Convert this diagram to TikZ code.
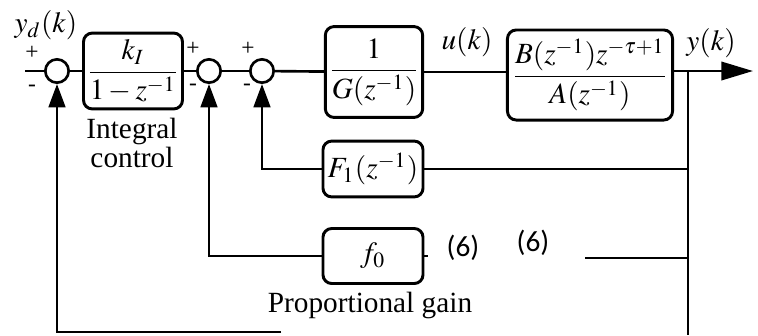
\documentclass[tikz,border=0pt]{standalone}
\usepackage{mathptmx}
\usepackage{fontspec}
\setmainfont{Liberation Serif}
\newfontfamily\calibri{Carlito}
\usetikzlibrary{arrows.meta}

\begin{document}
\begin{tikzpicture}[x=0.012cm, y=-0.012cm, line width=0.9pt,
      blk/.style={draw, rounded corners=3pt, line width=1pt, inner sep=1pt,
                  align=center},
      sumnode/.style={draw, circle, minimum size=0.28cm, inner sep=0pt},
      sgn/.style={font=\footnotesize, inner sep=0pt},
      arr/.style={-{Triangle[length=0.28cm, width=0.2cm]}},
      outarr/.style={-{Triangle[length=0.38cm, width=0.22cm]}}]

    \useasboundingbox (0,0) rectangle (758,335);

    \node[sumnode] (s1) at (57,71)  {};
    \node[sumnode] (s2) at (209,71) {};
    \node[sumnode] (s3) at (262,71) {};

    \node[blk, minimum width=1.08cm, minimum height=0.91cm]
      (ki) at (133,71) {$\displaystyle\frac{k_I}{1-z^{-1}}$};
    \node[blk, minimum width=1.1cm, minimum height=1.09cm]
      (ginv) at (374,72) {$\displaystyle\frac{1}{G(z^{-1})}$};
    \node[blk, minimum width=1.98cm, minimum height=1.08cm]
      (plant) at (590,75) {$\displaystyle\frac{B(z^{-1})z^{-\tau+1}}{A(z^{-1})}$};
    \node[blk, minimum width=1.2cm, minimum height=0.67cm]
      (fone) at (373,169) {$F_1(z^{-1})$};
    \node[blk, minimum width=1.2cm, minimum height=0.66cm]
      (fzero) at (373,256) {$f_0$};

    \coordinate (yin)   at (25,71);
    \coordinate (br)    at (688,71);
    \coordinate (yout)  at (753,71);
    \coordinate (bot)   at (688,335);
    \coordinate (fbend) at (281,332);
    \coordinate (pgap)  at (585,258);

    % forward path
    \draw (yin) -- (s1);
    \draw (s1) -- (ki);
    \draw (ki) -- (s2);
    \draw (s2) -- (s3);
    \draw (s3) -- (ginv);
    \draw (ginv.east) -- (ginv.east -| plant.west);
    \draw[outarr] (plant.east |- br) -- (yout);

    % feedback paths
    \draw (br) -- (bot);
    \draw (fone.east -| br) -- (fone);
    \draw[arr] (fone.west) -| (s3);
    \draw (pgap) -- (pgap -| br);
    \draw (fzero.east) -- ++(4,0);
    \draw[arr] (fzero.west) -| (s2);
    \draw[arr] (fbend) -| (s1);

    % labels
    \node (ydlabel) at (46,25)  {$y_d(k)$};
    \node (ulabel)  at (467,42) {$u(k)$};
    \node (ylabel)  at (711,43) {$y(k)$};
    \node[sgn] (p1) at (32,53)  {+};
    \node[sgn] (m1) at (32,88)  {-};
    \node[sgn] (p2) at (193,49) {+};
    \node[sgn] (m2) at (193,87) {-};
    \node[sgn] (p3) at (248,49) {+};
    \node[sgn] (m3) at (247,87) {-};
    \node[align=center, font=\fontsize{10}{10}\selectfont]
      (intlabel) at (132,143) {Integral\\control};
    \node (proplabel) at (370,305) {Proportional gain};
    \node[font=\calibri] (eqa) at (463,248) {(6)};
    \node[font=\calibri] (eqb) at (533,243) {(6)};
\end{tikzpicture}
\end{document}
